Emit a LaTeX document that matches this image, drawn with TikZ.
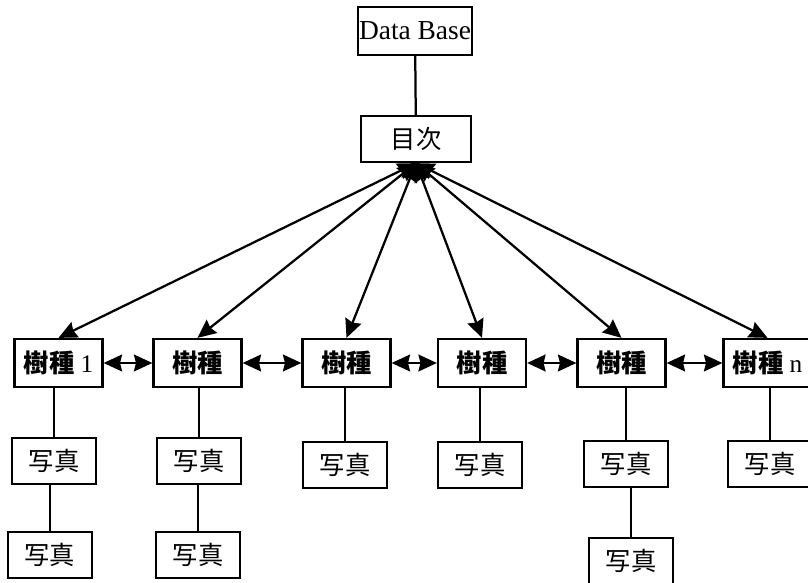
\documentclass[tikz,border=0pt]{standalone}
\usepackage{fontspec}
\setmainfont{Liberation Serif}
\newfontfamily\cjk{Noto Sans CJK JP}
\usepackage{tikz}
\usetikzlibrary{arrows.meta}
\usetikzlibrary{calc}
\tikzstyle{block} = [draw, line width=1.6pt,
	minimum width = 2.2cm,
	minimum height = 1.2cm,
	inner sep = 1pt,
	font = \fontsize{18}{21}\selectfont]
\tikzstyle{photo} = [block, minimum width = 2.1cm, minimum height = 1.15cm]
\tikzstyle{arrow} = [{Stealth[length=4.6mm,width=4.2mm,inset=0.5mm]}-{Stealth[length=4.6mm,width=4.2mm,inset=0.5mm]}, line width=1.6pt]
\tikzstyle{link} = [line width=1.6pt]

\begin{document}
\begin{tikzpicture}[x=0.025cm, y=-0.025cm]
			\useasboundingbox (0,0) rectangle (808,583);
			\node (db) [block, minimum width = 2.8cm, font = \fontsize{19.5}{22}\selectfont] at (415,31) {Data Base};
			\node (mokuji) [block, minimum width = 2.75cm, minimum height = 1.15cm] at (416,139) {\cjk 目次};
			\draw [link] (db) -- (mokuji);
			
			% tree species
			\node (s1) [block] at (58.5,363) {{\cjk\bfseries 樹種} 1};
			\node (s2) [block] at (197.5,363) {\cjk\bfseries 樹種};
			\node (s3) [block] at (346.5,363) {\cjk\bfseries 樹種};
			\node (s4) [block] at (482,363) {\cjk\bfseries 樹種};
			\node (s5) [block] at (621.5,363) {\cjk\bfseries 樹種};
			\node (s6) [block] at (767.5,363) {{\cjk\bfseries 樹種} n};
			
			\draw [arrow] (mokuji.south) -- (s1.north);
			\draw [arrow] (mokuji.south) -- (s2.north);
			\draw [arrow] (mokuji.south) -- (s3.north);
			\draw [arrow] (mokuji.south) -- (s4.north);
			\draw [arrow] (mokuji.south) -- (s5.north);
			\draw [arrow] (mokuji.south) -- (s6.north);
			
			\draw [arrow] (s1) -- (s2);
			\draw [arrow] (s2) -- (s3);
			\draw [arrow] (s3) -- (s4);
			\draw [arrow] (s4) -- (s5);
			\draw [arrow] (s5) -- (s6);
			
			% photos
			\node (p1a) [photo] at (54,461) {\cjk 写真};
			\node (p1b) [photo] at (50,555) {\cjk 写真};
			\node (p2a) [photo] at (199,461) {\cjk 写真};
			\node (p2b) [photo] at (198,555) {\cjk 写真};
			\node (p3) [photo] at (345,465) {\cjk 写真};
			\node (p4) [photo] at (480,465) {\cjk 写真};
			\node (p5a) [photo] at (626,464) {\cjk 写真};
			\node (p5b) [photo] at (631,561) {\cjk 写真};
			\node (p6) [photo] at (770,464) {\cjk 写真};
			
			\draw [link] (s1.south -| p1a) -- (p1a);
			\draw [link] (p1a.south -| p1b) -- (p1b);
			\draw [link] (s2.south -| p2a) -- (p2a);
			\draw [link] (p2a.south -| p2b) -- (p2b);
			\draw [link] (s3.south -| p3) -- (p3);
			\draw [link] (s4.south -| p4) -- (p4);
			\draw [link] (s5.south -| p5a) -- (p5a);
			\draw [link] (p5a.south -| p5b) -- (p5b);
			\draw [link] (s6.south -| p6) -- (p6);
		\end{tikzpicture}
\end{document}
